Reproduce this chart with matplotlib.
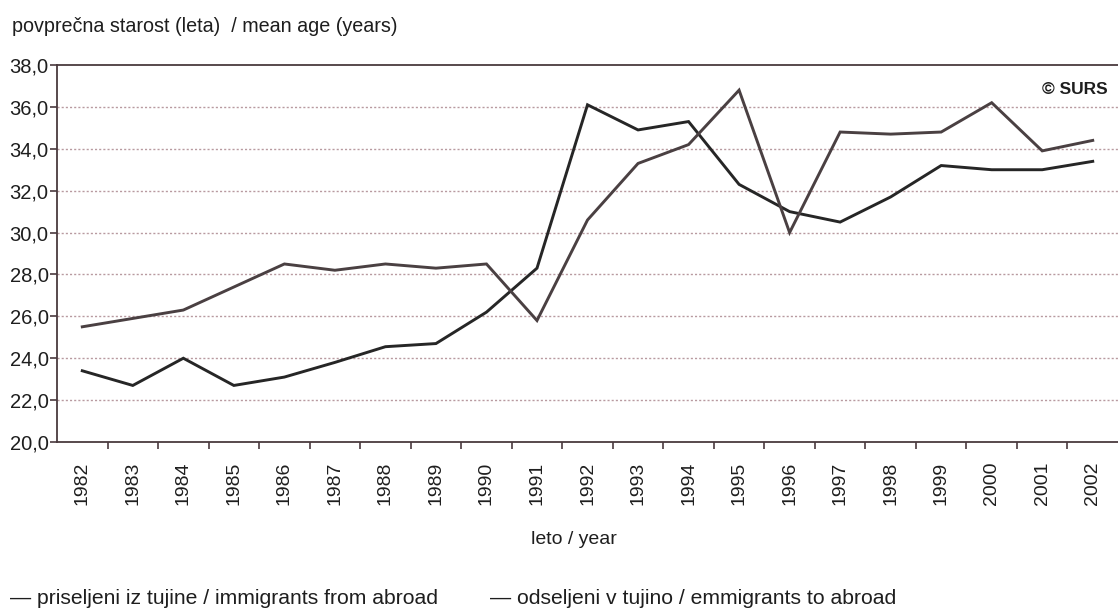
import matplotlib.pyplot as plt

plt.rcParams['font.family'] = ['Liberation Sans', 'DejaVu Sans']

years = list(range(1982, 2003))
immigrants = [23.4, 22.7, 24.0, 22.7, 23.1, 23.8, 24.55, 24.7, 26.2, 28.3,
              36.1, 34.9, 35.3, 32.3, 31.0, 30.5, 31.7, 33.2, 33.0, 33.0, 33.4]
emigrants = [25.5, 25.9, 26.3, 27.4, 28.5, 28.2, 28.5, 28.3, 28.5, 25.8,
             30.6, 33.3, 34.2, 36.8, 30.0, 34.8, 34.7, 34.8, 36.2, 33.9, 34.4]
yticks = [20, 22, 24, 26, 28, 30, 32, 34, 36, 38]

fig = plt.figure(figsize=(11.18, 6.11), dpi=100)
ax = fig.add_axes([0.051, 0.2766, 0.949, 0.617])

x = list(range(len(years)))
ax.plot(x, immigrants, color='#262626', lw=2.1, solid_joinstyle='miter')
ax.plot(x, emigrants, color='#4a4042', lw=2.1, solid_joinstyle='miter')

ax.set_xlim(-0.5, len(years) - 0.5)
ax.set_ylim(20, 38)
ax.set_yticks(yticks)
ax.set_yticklabels([f"{v:.1f}".replace('.', ',') for v in yticks], fontsize=14.5, color='#1e1e1e')
ax.set_xticks(x)
ax.set_xticklabels([str(y) for y in years], rotation=90, fontsize=14, color='#1e1e1e')
ax.set_xticks([i + 0.5 for i in x[:-1]], minor=True)
ax.tick_params(axis='x', which='major', length=0, pad=14)
ax.tick_params(axis='x', which='minor', length=5, width=1.2, color='#4a3a3e', direction='out')
ax.tick_params(axis='y', length=5, width=1.2, color='#4a3a3e', pad=1)

# dotted horizontal guides between the bottom and top frame lines
for v in yticks[1:-1]:
    ax.axhline(v, color='#b89aa0', lw=1.0, ls=(0, (1.5, 1.5)), zorder=0)

ax.spines['right'].set_visible(False)
for side in ['left', 'bottom', 'top']:
    ax.spines[side].set_color('#4a3a3e')
    ax.spines[side].set_linewidth(1.3)

fig.text(12 / 1118, 1 - 27 / 611, "povprečna starost (leta)  / mean age (years)",
         fontsize=14.2, va='center', ha='left', color='#1e1e1e')
ax.text(0.99, 0.935, "© SURS", transform=ax.transAxes, fontsize=12.5,
        fontweight='bold', ha='right', va='center', color='#1e1e1e')
fig.text(574 / 1118, 1 - 540 / 611, "leto / year", fontsize=14,
         ha='center', va='center', color='#1e1e1e')

fig.text(10 / 1118, 1 - 599 / 611, "— priseljeni iz tujine / immigrants from abroad",
         fontsize=15.2, ha='left', va='center', color='#1e1e1e')
fig.text(490 / 1118, 1 - 599 / 611, "— odseljeni v tujino / emmigrants to abroad",
         fontsize=15.2, ha='left', va='center', color='#1e1e1e')

fig.savefig("out.png", dpi=100)
